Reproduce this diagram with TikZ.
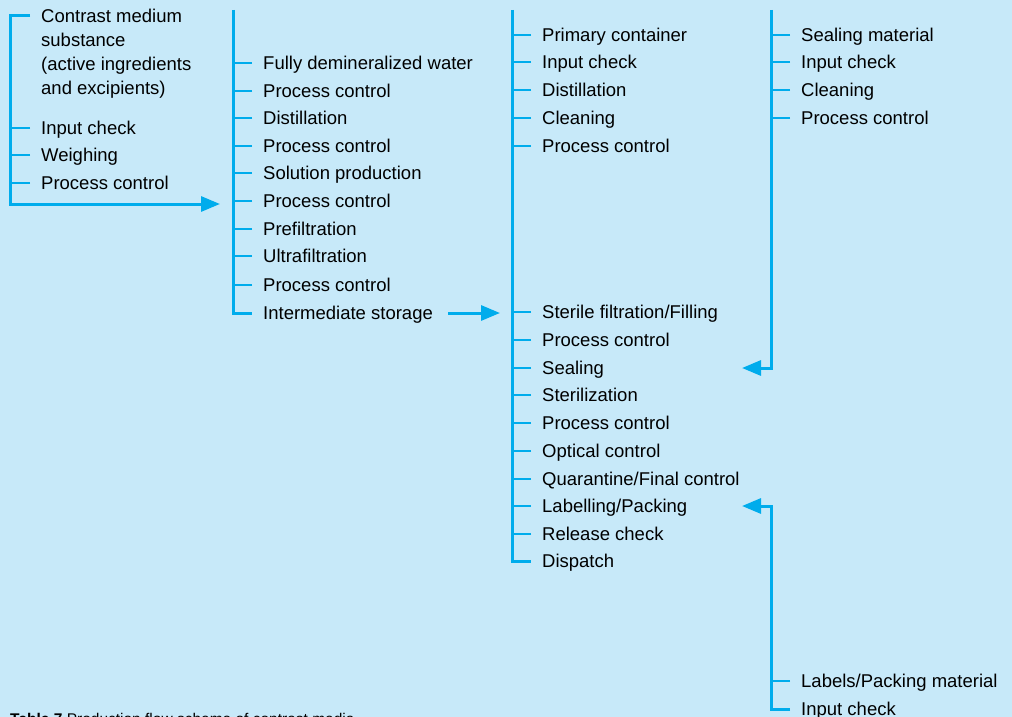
\documentclass[tikz,border=0pt]{standalone}
\usepackage{fontspec}
\setmainfont{Liberation Sans}
\usepackage{tikz}
\usetikzlibrary{arrows.meta}

\definecolor{panelblue}{RGB}{199,233,249}
\definecolor{lineblue}{RGB}{0,172,236}

\tikzset{
	item/.style={anchor=west, inner xsep=11pt, inner ysep=0pt, text height=13.3pt, text depth=0pt, font=\fontsize{18.5}{24}\selectfont},
	multi/.style={anchor=north west, inner xsep=11pt, inner ysep=0pt, align=left, font=\fontsize{18.5}{24}\selectfont},
	spine/.style={color=lineblue, line width=3pt},
	tick/.style={color=lineblue, line width=2.7pt},
	flow/.style={spine, -{Triangle[length=19pt,width=15pt]}}
}

\begin{document}
\begin{tikzpicture}[x=1pt,y=-1pt]
		\useasboundingbox (0,0) rectangle (1012,717);
		\clip (0,0) rectangle (1012,717);
		\fill [panelblue] (0,0) rectangle (1012,717);
		% substance column
		\node[multi] (cms) at (30,9) {Contrast medium\\substance\\(active ingredients\\and excipients)};
		\node[item] (ic1) at (30,128) {Input check};
		\node[item] (wg) at (30,155) {Weighing};
		\node[item] (pc1) at (30,183) {Process control};
		\coordinate (c1bot) at (10,204);
		\coordinate (in1) at (220,204);
		\draw [flow] ([yshift=-7pt]cms.north west) -| (c1bot) -- (in1);
		\draw [tick] (ic1.west) -- ++(-20,0);
		\draw [tick] (wg.west) -- ++(-20,0);
		\draw [tick] (pc1.west) -- ++(-20,0);
		% solution column
		\node[item] (fdw) at (252,63) {Fully demineralized water};
		\node[item] (pc2) at (252,91) {Process control};
		\node[item] (dst2) at (252,118) {Distillation};
		\node[item] (pc3) at (252,146) {Process control};
		\node[item] (sp) at (252,173) {Solution production};
		\node[item] (pc4) at (252,201) {Process control};
		\node[item] (pf) at (252,229) {Prefiltration};
		\node[item] (uf) at (252,256) {Ultrafiltration};
		\node[item] (pc5) at (252,285) {Process control};
		\node[item] (is) at (252,313) {Intermediate storage};
		\coordinate (c2top) at (233,10);
		\draw [spine] (c2top) |- (is.west);
		\draw [tick] (fdw.west) -- ++(-19,0);
		\draw [tick] (pc2.west) -- ++(-19,0);
		\draw [tick] (dst2.west) -- ++(-19,0);
		\draw [tick] (pc3.west) -- ++(-19,0);
		\draw [tick] (sp.west) -- ++(-19,0);
		\draw [tick] (pc4.west) -- ++(-19,0);
		\draw [tick] (pf.west) -- ++(-19,0);
		\draw [tick] (uf.west) -- ++(-19,0);
		\draw [tick] (pc5.west) -- ++(-19,0);
		% container and filling column
		\node[item] (pcn) at (531,35) {Primary container};
		\node[item] (ic2) at (531,62) {Input check};
		\node[item] (dst3) at (531,90) {Distillation};
		\node[item] (cl3) at (531,118) {Cleaning};
		\node[item] (pc6) at (531,146) {Process control};
		\node[item] (sff) at (531,312) {Sterile filtration/Filling};
		\node[item] (pc7) at (531,340) {Process control};
		\node[item] (sl) at (531,368) {Sealing};
		\node[item] (st) at (531,395) {Sterilization};
		\node[item] (pc8) at (531,423) {Process control};
		\node[item] (oc) at (531,451) {Optical control};
		\node[item] (qf) at (531,479) {Quarantine/Final control};
		\node[item] (lp) at (531,506) {Labelling/Packing};
		\node[item] (rc) at (531,534) {Release check};
		\node[item] (dsp) at (531,561) {Dispatch};
		\coordinate (c3top) at (512,10);
		\coordinate (in2) at (500,313);
		\draw [spine] (c3top) |- (dsp.west);
		\draw [flow] ([xshift=4pt]is.east) -- (in2);
		\foreach \n in {pcn,ic2,dst3,cl3,pc6,sff,pc7,sl,st,pc8,oc,qf,lp,rc}
			\draw [tick] (\n.west) -- ++(-19,0);
		% sealing material column
		\node[item] (sm) at (790,35) {Sealing material};
		\node[item] (ic4) at (790,62) {Input check};
		\node[item] (cl4) at (790,90) {Cleaning};
		\node[item] (pc9) at (790,118) {Process control};
		\coordinate (c4top) at (771,10);
		\coordinate (in3) at (742,368);
		\draw [flow] (c4top) |- (in3);
		\draw [tick] (sm.west) -- ++(-19,0);
		\draw [tick] (ic4.west) -- ++(-19,0);
		\draw [tick] (cl4.west) -- ++(-19,0);
		\draw [tick] (pc9.west) -- ++(-19,0);
		% packing material column
		\node[item] (lpm) at (790,681) {Labels/Packing material};
		\node[item] (ic5) at (790,709) {Input check};
		\coordinate (c5top) at (771,506);
		\coordinate (in4) at (742,506);
		\draw [flow] (ic5.west) -| (c5top) -- (in4);
		\draw [tick] (lpm.west) -- ++(-19,0);
		% caption
		\node[anchor=base west, inner sep=0pt, font=\fontsize{15.5}{18}\selectfont] (cap) at (10,724) {\textbf{Table 7} Production flow scheme of contrast media};
	\end{tikzpicture}
\end{document}
